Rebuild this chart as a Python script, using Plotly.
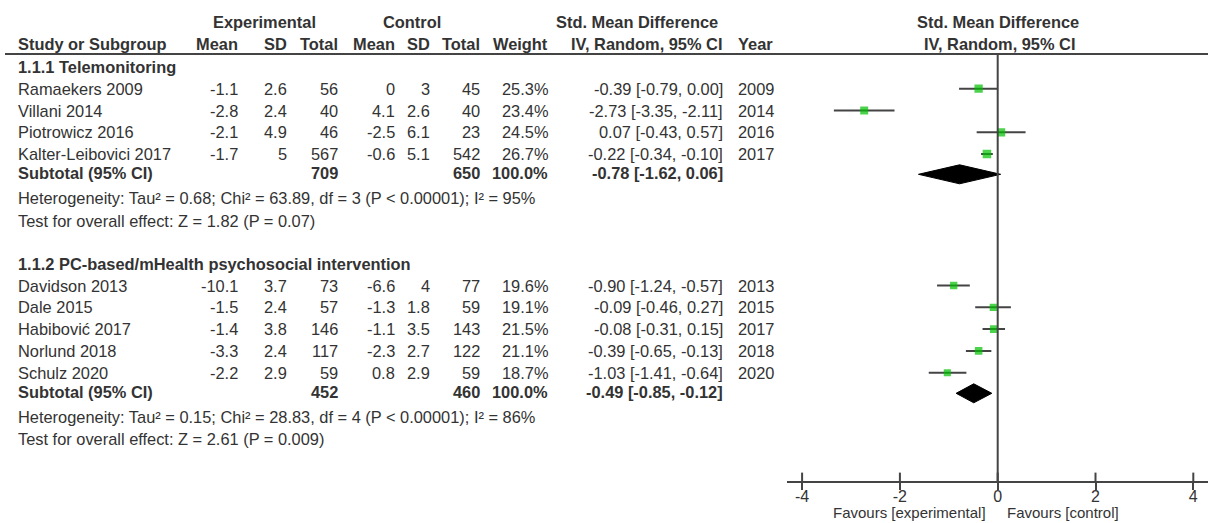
import plotly.graph_objects as go

# ---------------- data ----------------
studies = ["Ramaekers 2009", "Villani 2014", "Piotrowicz 2016", "Kalter-Leibovici 2017",
           "Davidson 2013", "Dale 2015", "Habibović 2017", "Norlund 2018", "Schulz 2020"]
group_of = [0, 0, 0, 0, 1, 1, 1, 1, 1]
exp_mean = [-1.1, -2.8, -2.1, -1.7, -10.1, -1.5, -1.4, -3.3, -2.2]
exp_sd = [2.6, 2.4, 4.9, 5, 3.7, 2.4, 3.8, 2.4, 2.9]
exp_n = [56, 40, 46, 567, 73, 57, 146, 117, 59]
ctl_mean = [0, 4.1, -2.5, -0.6, -6.6, -1.3, -1.1, -2.3, 0.8]
ctl_sd = [3, 2.6, 6.1, 5.1, 4, 1.8, 3.5, 2.7, 2.9]
ctl_n = [45, 40, 23, 542, 77, 59, 143, 122, 59]
weight = [25.3, 23.4, 24.5, 26.7, 19.6, 19.1, 21.5, 21.1, 18.7]
smd = [-0.39, -2.73, 0.07, -0.22, -0.90, -0.09, -0.08, -0.39, -1.03]
ci_lo = [-0.79, -3.35, -0.43, -0.34, -1.24, -0.46, -0.31, -0.65, -1.41]
ci_hi = [0.00, -2.11, 0.57, -0.10, -0.57, 0.27, 0.15, -0.13, -0.64]
year = [2009, 2014, 2016, 2017, 2013, 2015, 2017, 2018, 2020]

group_titles = ["1.1.1 Telemonitoring", "1.1.2 PC-based/mHealth psychosocial intervention"]
sub_exp_n = [709, 452]
sub_ctl_n = [650, 460]
sub_weight = [100.0, 100.0]
sub_smd = [-0.78, -0.49]
sub_lo = [-1.62, -0.85]
sub_hi = [0.06, -0.12]
het_text = ["Heterogeneity: Tau² = 0.68; Chi² = 63.89, df = 3 (P < 0.00001); I² = 95%",
            "Heterogeneity: Tau² = 0.15; Chi² = 28.83, df = 4 (P < 0.00001); I² = 86%"]
test_text = ["Test for overall effect: Z = 1.82 (P = 0.07)",
             "Test for overall effect: Z = 2.61 (P = 0.009)"]

tick_vals = [-4, -2, 0, 2, 4]
tick_text = ["-4", "-2", "0", "2", "4"]

# ---------------- layout constants ----------------
W, H = 1208, 523
FONT = "Liberation Sans, Arial, sans-serif"
TXT = "#333333"
LINE = "#444444"
GREEN = "#00c000"
FS = 16.4

AXIS_Y = 481          # pixel row of the forest x-axis
HEADER_LINE_Y = 54
# row pixel positions
title_y = [67, 264]
study_y = [88.7, 110.5, 132.3, 154.1, 285.5, 307.3, 329.1, 350.9, 372.7]
sub_y = [174.3, 393.3]
het_y = [198, 417]
test_y = [221, 439]

# column pixel positions (right edges unless noted)
PAD = 2
COL_STUDY = 18 - PAD
COL_EMEAN, COL_ESD, COL_ETOT = 238 + PAD, 287 + PAD, 338 + PAD
COL_CMEAN, COL_CSD, COL_CTOT = 395 + PAD, 430 + PAD, 480 + PAD
COL_W = 548 + PAD
COL_CI = 723 + PAD
COL_YEAR = 738 - PAD   # left edge

X0_PIX = 997.7
SCALE = 48.9
XR = 4.3
dom0 = (X0_PIX - XR * SCALE) / W
dom1 = min(1.0, (X0_PIX + XR * SCALE) / W)

fig = go.Figure()

# CI lines
cx, cy = [], []
for lo, hi, y in zip(ci_lo, ci_hi, study_y):
    cx += [lo, hi, None]
    cy += [y, y, None]
fig.add_trace(go.Scatter(x=cx, y=cy, mode="lines", line=dict(color=LINE, width=2),
                         hoverinfo="skip", showlegend=False))

# squares
fig.add_trace(go.Scatter(x=smd, y=study_y, mode="markers",
                         marker=dict(symbol="square", color=GREEN,
                                     size=[1.65 * (w ** 0.5) for w in weight],
                                     line=dict(width=0)),
                         showlegend=False, hoverinfo="skip"))

# diamonds
HALF = 9.5
for s, lo, hi, y in zip(sub_smd, sub_lo, sub_hi, sub_y):
    fig.add_trace(go.Scatter(x=[lo, s, hi, s, lo], y=[y, y - HALF, y, y + HALF, y],
                             mode="lines", fill="toself", fillcolor="black",
                             line=dict(color="black", width=1),
                             showlegend=False, hoverinfo="skip"))

# upper half of tick marks (ticks cross the axis line)
fig.add_trace(go.Scatter(x=tick_vals, y=[AXIS_Y - 3.5] * len(tick_vals), mode="markers",
                         marker=dict(symbol="line-ns", size=7, line=dict(color=LINE, width=2)),
                         cliponaxis=False, showlegend=False, hoverinfo="skip"))

shapes = [
    dict(type="line", xref="paper", yref="y", x0=5 / W, x1=1, y0=HEADER_LINE_Y, y1=HEADER_LINE_Y,
         line=dict(color=LINE, width=2)),
    dict(type="line", xref="x", yref="y", x0=0, x1=0, y0=HEADER_LINE_Y, y1=AXIS_Y,
         line=dict(color=LINE, width=2)),
]

ann = []


def txt(x, y, s, anchor="left", bold=False, size=FS, yref="y"):
    ann.append(dict(x=x / W, y=y, xref="paper", yref=yref, text=f"<b>{s}</b>" if bold else s,
                    showarrow=False, xanchor=anchor, yanchor="middle",
                    font=dict(family=FONT, size=size, color=TXT)))


# headers
txt(264, 22, "Experimental", "center", True)
txt(412, 22, "Control", "center", True)
txt(637, 22, "Std. Mean Difference", "center", True)
txt(998, 22, "Std. Mean Difference", "center", True)
txt(COL_STUDY, 44, "Study or Subgroup", "left", True)
txt(COL_EMEAN, 44, "Mean", "right", True)
txt(COL_ESD, 44, "SD", "right", True)
txt(COL_ETOT, 44, "Total", "right", True)
txt(COL_CMEAN, 44, "Mean", "right", True)
txt(COL_CSD, 44, "SD", "right", True)
txt(COL_CTOT, 44, "Total", "right", True)
txt(COL_W, 44, "Weight", "right", True)
txt(COL_CI, 44, "IV, Random, 95% CI", "right", True)
txt(COL_YEAR, 44, "Year", "left", True)
txt(1000, 44, "IV, Random, 95% CI", "center", True)

for g in range(2):
    txt(COL_STUDY, title_y[g], group_titles[g], "left", True)
    txt(COL_STUDY, sub_y[g] - 1, "Subtotal (95% CI)", "left", True)
    txt(COL_ETOT, sub_y[g] - 1, str(sub_exp_n[g]), "right", True)
    txt(COL_CTOT, sub_y[g] - 1, str(sub_ctl_n[g]), "right", True)
    txt(COL_W, sub_y[g] - 1, f"{sub_weight[g]:.1f}%", "right", True)
    txt(COL_CI, sub_y[g] - 1, f"{sub_smd[g]:.2f} [{sub_lo[g]:.2f}, {sub_hi[g]:.2f}]", "right", True)
    txt(COL_STUDY, het_y[g], het_text[g], "left")
    txt(COL_STUDY, test_y[g], test_text[g], "left")

for i, name in enumerate(studies):
    y = study_y[i]
    txt(COL_STUDY, y, name, "left")
    txt(COL_EMEAN, y, f"{exp_mean[i]:g}", "right")
    txt(COL_ESD, y, f"{exp_sd[i]:g}", "right")
    txt(COL_ETOT, y, str(exp_n[i]), "right")
    txt(COL_CMEAN, y, f"{ctl_mean[i]:g}", "right")
    txt(COL_CSD, y, f"{ctl_sd[i]:g}", "right")
    txt(COL_CTOT, y, str(ctl_n[i]), "right")
    txt(COL_W, y, f"{weight[i]:.1f}%", "right")
    txt(COL_CI, y, f"{smd[i]:.2f} [{ci_lo[i]:.2f}, {ci_hi[i]:.2f}]", "right")
    txt(COL_YEAR, y, str(year[i]), "left")

# favours labels
FAV_Y = 512.5
ann.append(dict(x=-0.2, y=(H - FAV_Y) / H, xref="x", yref="paper", text="Favours [experimental]",
                showarrow=False, xanchor="right", yanchor="middle",
                font=dict(family=FONT, size=15, color=TXT)))
ann.append(dict(x=0.15, y=(H - FAV_Y) / H, xref="x", yref="paper", text="Favours [control]",
                showarrow=False, xanchor="left", yanchor="middle",
                font=dict(family=FONT, size=15, color=TXT)))

fig.update_layout(
    width=W, height=H,
    margin=dict(l=0, r=0, t=0, b=0),
    paper_bgcolor="white", plot_bgcolor="white",
    showlegend=False,
    shapes=shapes,
    annotations=ann,
    xaxis=dict(domain=[dom0, dom1], range=[-XR, XR], showgrid=False, zeroline=False,
               showline=True, linecolor=LINE, linewidth=2,
               ticks="outside", ticklen=7, tickwidth=2, tickcolor=LINE,
               ticklabelstandoff=-7,
               tickvals=tick_vals, ticktext=tick_text,
               tickfont=dict(family=FONT, size=16, color=TXT), fixedrange=True),
    yaxis=dict(domain=[(H - AXIS_Y) / H, 1], range=[AXIS_Y, 0], visible=False,
               showgrid=False, zeroline=False, fixedrange=True),
)

fig.write_html("out.html", config={"displayModeBar": False},
               post_script="document.body.style.margin='0';document.body.style.overflow='hidden';")
